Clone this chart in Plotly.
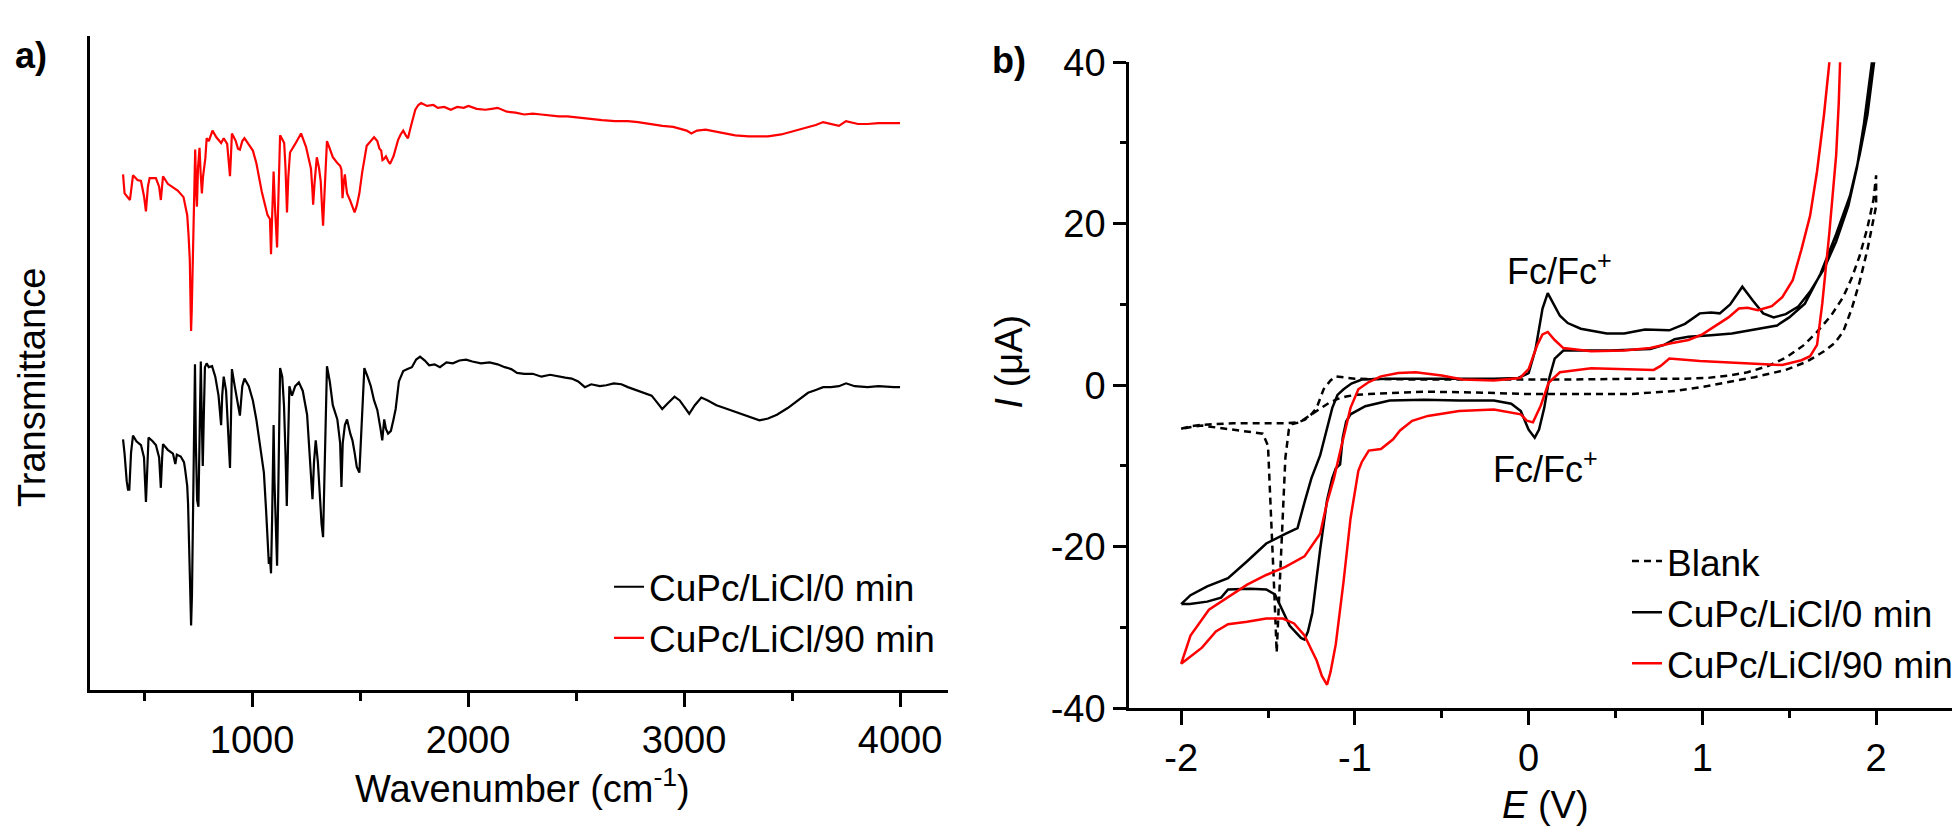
import plotly.graph_objects as go

W, H = 1960, 839

# ---- panel a) IR spectra, (wavenumber cm-1, transmittance a.u.) ----
IR_0MIN = [
    (403, 2.64), (410, 2.49), (420, 2.2), (426, 2.11), (432, 2.11), (440, 2.5), (449, 2.68),
    (465, 2.62), (486, 2.58), (500, 2.45), (509, 1.98), (515, 2.4), (521, 2.66), (540, 2.62),
    (555, 2.58), (570, 2.45), (578, 2.13), (584, 2.45), (588, 2.59), (610, 2.53), (634, 2.49),
    (645, 2.38), (652, 2.48), (670, 2.46), (685, 2.40), (690, 2.33), (700, 2.15), (704, 1.96),
    (710, 1.5), (714, 1.0), (718, 0.68), (722, 1.0), (726, 1.6), (729, 1.96), (733, 3.0),
    (736, 3.43), (740, 2.6), (746, 2.0), (752, 1.93), (757, 2.6), (763, 3.46), (768, 2.8),
    (772, 2.36), (777, 2.9), (782, 3.40), (790, 3.44), (800, 3.40), (815, 3.41), (830, 3.30),
    (845, 3.1), (857, 2.79), (862, 3.1), (869, 3.30), (880, 3.15), (890, 2.7), (898, 2.34),
    (903, 2.9), (907, 3.38), (920, 3.20), (935, 3.0), (944, 2.89), (955, 3.20), (965, 3.28),
    (985, 3.20), (1004, 3.05), (1020, 2.85), (1040, 2.55), (1055, 2.29), (1065, 1.9),
    (1072, 1.55), (1078, 1.33), (1083, 1.40), (1088, 1.23), (1093, 1.8), (1097, 2.4),
    (1100, 2.79), (1104, 2.2), (1110, 1.6), (1116, 1.31), (1121, 2.0), (1126, 2.7),
    (1130, 3.39), (1140, 3.30), (1148, 3.0), (1155, 2.5), (1161, 1.94), (1167, 2.6),
    (1173, 3.2), (1185, 3.10), (1200, 3.20), (1217, 3.24), (1235, 3.15), (1255, 2.9),
    (1270, 2.4), (1280, 2.01), (1287, 2.4), (1295, 2.63), (1305, 2.4), (1315, 2.0),
    (1322, 1.75), (1329, 1.61), (1335, 2.2), (1341, 3.0), (1347, 3.41), (1360, 3.25),
    (1374, 3.0), (1395, 2.85), (1408, 2.6), (1414, 2.14), (1420, 2.6), (1430, 2.79),
    (1440, 2.85), (1455, 2.70), (1465, 2.63), (1475, 2.5), (1485, 2.35), (1497, 2.29),
    (1505, 2.7), (1512, 3.1), (1520, 3.39), (1535, 3.30), (1550, 3.20), (1565, 3.05),
    (1580, 2.95), (1595, 2.75), (1603, 2.63), (1612, 2.85), (1620, 2.75), (1630, 2.70),
    (1643, 2.73), (1655, 2.85), (1665, 2.96), (1680, 3.25), (1700, 3.36), (1720, 3.38),
    (1740, 3.40), (1760, 3.48), (1778, 3.51), (1800, 3.47), (1820, 3.42), (1845, 3.43),
    (1870, 3.40), (1900, 3.45), (1930, 3.44), (1960, 3.47), (1991, 3.48), (2020, 3.46),
    (2060, 3.44), (2100, 3.45), (2137, 3.43), (2170, 3.40), (2200, 3.38), (2227, 3.34),
    (2260, 3.33), (2300, 3.33), (2340, 3.30), (2380, 3.32), (2420, 3.30), (2450, 3.29),
    (2480, 3.28), (2510, 3.25), (2541, 3.19), (2570, 3.22), (2610, 3.20), (2640, 3.21),
    (2675, 3.23), (2710, 3.22), (2740, 3.19), (2780, 3.16), (2810, 3.13), (2850, 3.10),
    (2875, 3.03), (2899, 2.96), (2925, 3.02), (2956, 3.09), (2980, 3.05), (3000, 2.98),
    (3024, 2.91), (3050, 3.0), (3080, 3.08), (3110, 3.05), (3150, 3.0), (3200, 2.96),
    (3237, 2.93), (3280, 2.90), (3320, 2.86), (3349, 2.84), (3389, 2.86), (3430, 2.90),
    (3480, 2.97), (3530, 3.05), (3574, 3.13), (3610, 3.16), (3644, 3.19), (3680, 3.19),
    (3717, 3.20), (3750, 3.23), (3790, 3.20), (3850, 3.19), (3900, 3.20), (3972, 3.19),
    (4000, 3.19),
]

IR_90MIN = [
    (403, 5.43), (410, 5.23), (435, 5.16), (449, 5.42), (470, 5.37), (486, 5.36), (500, 5.20),
    (509, 5.04), (518, 5.30), (526, 5.39), (555, 5.39), (570, 5.30), (578, 5.16), (588, 5.41),
    (610, 5.33), (634, 5.29), (656, 5.26), (683, 5.19), (700, 5.00), (706, 4.80), (712, 4.53),
    (716, 4.0), (718, 3.78), (721, 4.0), (727, 4.56), (732, 5.2), (737, 5.69), (741, 5.3),
    (745, 5.09), (750, 5.5), (757, 5.71), (762, 5.45), (768, 5.23), (773, 5.40), (778, 5.49),
    (784, 5.60), (790, 5.81), (800, 5.78), (817, 5.89), (835, 5.82), (857, 5.76), (869, 5.81),
    (885, 5.75), (893, 5.55), (898, 5.41), (902, 5.60), (907, 5.86), (925, 5.78), (935, 5.70),
    (944, 5.69), (955, 5.78), (965, 5.81), (985, 5.75), (1004, 5.68), (1020, 5.55),
    (1032, 5.39), (1045, 5.25), (1060, 5.11), (1072, 5.0), (1083, 4.96), (1086, 4.80),
    (1088, 4.59), (1092, 4.9), (1097, 5.25), (1100, 5.46), (1106, 5.1), (1111, 4.8),
    (1116, 4.66), (1120, 5.0), (1125, 5.5), (1130, 5.84), (1140, 5.80), (1149, 5.76),
    (1155, 5.5), (1160, 5.1), (1162, 5.03), (1168, 5.4), (1176, 5.66), (1200, 5.75),
    (1227, 5.86), (1250, 5.72), (1265, 5.58), (1273, 5.49), (1280, 5.25), (1283, 5.11),
    (1290, 5.35), (1300, 5.61), (1310, 5.50), (1318, 5.36), (1325, 5.05), (1329, 4.89),
    (1335, 5.2), (1342, 5.6), (1347, 5.78), (1360, 5.70), (1374, 5.61), (1395, 5.55),
    (1408, 5.52), (1414, 5.48), (1419, 5.18), (1425, 5.35), (1430, 5.43), (1436, 5.30),
    (1440, 5.23), (1455, 5.15), (1468, 5.08), (1475, 5.03), (1485, 5.10), (1497, 5.23),
    (1510, 5.45), (1531, 5.73), (1550, 5.78), (1565, 5.82), (1580, 5.78), (1590, 5.70),
    (1598, 5.68), (1604, 5.58), (1610, 5.59), (1620, 5.62), (1630, 5.57), (1639, 5.54),
    (1655, 5.62), (1676, 5.79), (1688, 5.85), (1700, 5.89), (1712, 5.84), (1722, 5.81),
    (1735, 5.93), (1756, 6.11), (1770, 6.16), (1783, 6.18), (1810, 6.15), (1840, 6.16),
    (1860, 6.13), (1890, 6.14), (1920, 6.11), (1950, 6.14), (1980, 6.13), (2002, 6.15),
    (2040, 6.12), (2080, 6.11), (2110, 6.12), (2137, 6.13), (2180, 6.09), (2220, 6.08),
    (2260, 6.06), (2300, 6.07), (2339, 6.06), (2380, 6.05), (2420, 6.04), (2460, 6.04),
    (2500, 6.03), (2563, 6.01), (2620, 6.00), (2680, 5.99), (2740, 5.99), (2787, 5.98),
    (2840, 5.96), (2900, 5.94), (2950, 5.93), (2985, 5.91), (3012, 5.89), (3034, 5.86),
    (3060, 5.89), (3100, 5.90), (3150, 5.88), (3237, 5.84), (3300, 5.83), (3389, 5.83),
    (3450, 5.85), (3500, 5.88), (3574, 5.93), (3610, 5.95), (3644, 5.98), (3680, 5.96),
    (3717, 5.94), (3750, 5.99), (3780, 5.97), (3805, 5.96), (3850, 5.96), (3900, 5.97),
    (3972, 5.97), (4000, 5.97),
]

# ---- panel b) cyclic voltammograms, (E in V, I in uA) ----
CV_BLANK = [
    (-2.0, -5.4), (-1.95, -5.1), (-1.88, -4.9), (-1.7, -4.7), (-1.5, -4.7), (-1.4, -4.7),
    (-1.33, -4.6), (-1.29, -4.3), (-1.25, -3.6), (-1.22, -2.8), (-1.18, -0.5), (-1.14, 0.6),
    (-1.11, 1.1), (-1.0, 0.8), (-0.6, 0.7), (-0.2, 0.7), (0.2, 0.7), (0.6, 0.8), (0.9, 0.8),
    (1.03, 0.9), (1.15, 1.2), (1.26, 1.6), (1.38, 2.4), (1.48, 3.4), (1.58, 4.9), (1.66, 6.6),
    (1.74, 8.6), (1.81, 10.9), (1.86, 13.3), (1.905, 16.0), (1.95, 19.5), (1.985, 23.0),
    (2.0, 26.0),
    (2.0, 22.2), (1.95, 16.8), (1.905, 12.8), (1.86, 9.5), (1.81, 6.6), (1.76, 5.2),
    (1.70, 4.2), (1.60, 2.9), (1.48, 1.9), (1.3, 1.0), (1.15, 0.4), (1.03, -0.1), (0.85, -0.7),
    (0.58, -1.1), (0.3, -1.1), (0.0, -1.1), (-0.3, -0.9), (-0.6, -0.8), (-0.92, -1.1),
    (-1.0, -1.2), (-1.05, -1.4), (-1.1, -1.7), (-1.15, -2.2), (-1.2, -2.9), (-1.26, -3.8),
    (-1.32, -4.6), (-1.36, -4.8), (-1.38, -5.5), (-1.40, -9.0), (-1.42, -18.0), (-1.44, -28.0),
    (-1.45, -33.1), (-1.465, -25.0), (-1.485, -15.0), (-1.50, -7.5), (-1.53, -6.0),
    (-1.6, -5.8), (-1.73, -5.5), (-1.88, -5.0), (-1.95, -5.2), (-2.0, -5.4),
]

CV_0MIN = [
    (-2.0, -27.1), (-1.946, -26.0), (-1.85, -24.9), (-1.73, -23.9), (-1.62, -21.8),
    (-1.51, -19.6), (-1.40, -18.4), (-1.33, -17.7), (-1.29, -14.5), (-1.25, -11.5),
    (-1.2, -8.7), (-1.16, -5.5), (-1.13, -2.8), (-1.10, -1.2), (-1.065, -0.5), (-1.02, 0.2),
    (-0.96, 0.7), (-0.8, 0.8), (-0.6, 0.8), (-0.4, 0.8), (-0.2, 0.8), (-0.06, 0.9),
    (0.0, 1.5), (0.04, 4.5), (0.08, 9.5), (0.11, 11.4), (0.14, 10.2), (0.18, 8.6),
    (0.225, 7.7), (0.30, 7.0), (0.45, 6.4), (0.55, 6.4), (0.67, 6.9), (0.81, 6.8),
    (0.90, 7.6), (0.985, 8.9), (1.05, 9.0), (1.10, 8.9), (1.16, 10.0), (1.23, 12.2),
    (1.29, 10.5), (1.35, 8.9), (1.41, 8.4), (1.48, 8.8), (1.55, 9.7), (1.62, 11.6),
    (1.70, 14.4), (1.77, 17.8), (1.84, 22.2), (1.89, 27.0), (1.93, 32.4), (1.975, 39.8),
    (2.0, 44.0),
    (2.0, 42.0), (1.95, 33.5), (1.905, 28.5), (1.85, 23.5), (1.77, 18.7), (1.68, 13.8),
    (1.59, 10.1), (1.50, 8.4), (1.43, 7.4), (1.30, 6.9), (1.17, 6.4), (1.05, 6.2),
    (0.92, 6.0), (0.84, 5.7), (0.78, 5.0), (0.70, 4.5), (0.47, 4.3), (0.20, 4.3),
    (0.15, 3.3), (0.12, 1.0), (0.09, -2.8), (0.06, -5.5), (0.035, -6.5), (0.0, -5.5),
    (-0.045, -3.2), (-0.1, -2.3), (-0.2, -1.9), (-0.4, -1.9), (-0.6, -1.8), (-0.8, -1.9),
    (-0.94, -2.6), (-1.025, -3.6), (-1.05, -4.5), (-1.07, -6.5), (-1.085, -9.8),
    (-1.11, -10.3), (-1.13, -11.5), (-1.16, -14.2), (-1.2, -20.4), (-1.245, -28.2),
    (-1.27, -30.5), (-1.29, -31.5), (-1.31, -31.3), (-1.375, -29.8), (-1.46, -25.9),
    (-1.51, -25.3), (-1.6, -25.2), (-1.73, -25.3), (-1.77, -26.3), (-1.85, -26.8),
    (-1.95, -27.1), (-2.0, -27.1),
]

CV_90MIN = [
    (-2.0, -34.5), (-1.946, -31.0), (-1.84, -27.8), (-1.73, -26.2), (-1.62, -24.7),
    (-1.51, -23.5), (-1.40, -22.5), (-1.29, -21.2), (-1.20, -18.4), (-1.16, -14.5),
    (-1.12, -11.5), (-1.09, -8.7), (-1.05, -5.0), (-1.025, -2.8), (-0.98, -0.5),
    (-0.92, 0.4), (-0.85, 1.1), (-0.75, 1.5), (-0.65, 1.6), (-0.5, 1.2), (-0.38, 0.7),
    (-0.2, 0.6), (-0.05, 0.9), (0.0, 2.0), (0.05, 5.0), (0.08, 6.3), (0.11, 6.6),
    (0.15, 5.6), (0.20, 4.6), (0.36, 4.2), (0.55, 4.3), (0.70, 4.6), (0.82, 5.2),
    (0.92, 5.6), (1.0, 6.3), (1.08, 7.4), (1.15, 8.4), (1.21, 9.5), (1.26, 9.6),
    (1.32, 9.3), (1.40, 9.8), (1.46, 10.9), (1.52, 13.0), (1.57, 16.8), (1.62, 21.0),
    (1.66, 26.5), (1.70, 33.5), (1.73, 39.8), (1.75, 45.0),
    (1.80, 45.0), (1.785, 35.0), (1.77, 28.5), (1.73, 18.7), (1.69, 10.1), (1.66, 5.0),
    (1.62, 3.6), (1.57, 3.1), (1.46, 2.5), (1.26, 2.7), (0.985, 3.0), (0.81, 3.3),
    (0.76, 2.4), (0.72, 1.9), (0.55, 2.0), (0.36, 2.1), (0.18, 1.6), (0.115, 0.3),
    (0.07, -2.5), (0.025, -4.6), (-0.01, -4.4), (-0.045, -3.6), (-0.2, -3.0), (-0.4, -3.2),
    (-0.58, -3.8), (-0.67, -4.4), (-0.74, -5.6), (-0.78, -6.7), (-0.85, -7.9), (-0.92, -8.1),
    (-0.96, -9.5), (-0.98, -10.6), (-1.025, -16.5), (-1.065, -24.3), (-1.11, -32.1),
    (-1.14, -35.5), (-1.16, -37.1), (-1.19, -36.0), (-1.22, -34.1), (-1.29, -31.0),
    (-1.35, -29.5), (-1.415, -28.9), (-1.51, -28.9), (-1.62, -29.3), (-1.73, -29.6),
    (-1.80, -30.5), (-1.88, -32.5), (-1.95, -33.6), (-2.0, -34.5),
]

WN_TICKS = [1000, 2000, 3000, 4000]
WN_MINOR = [500, 1500, 2500, 3500]
E_TICKS = [-2, -1, 0, 1, 2]
E_MINOR = [-1.5, -0.5, 0.5, 1.5, 2.5]
I_TICKS = [-40, -20, 0, 20, 40]
I_MINOR = [-30, -10, 10, 30]


def px(x):
    return x / W


def py(y):
    return 1 - y / H


def split(pairs):
    return [p[0] for p in pairs], [p[1] for p in pairs]


FONT = "Liberation Sans, Arial, sans-serif"
BLACK, RED = "#000000", "#ff0000"

fig = go.Figure()

x, y = split(IR_0MIN)
fig.add_trace(go.Scatter(x=x, y=y, mode="lines", name="CuPc/LiCl/0 min",
                         line=dict(color=BLACK, width=2.2), xaxis="x", yaxis="y", legend="legend"))
x, y = split(IR_90MIN)
fig.add_trace(go.Scatter(x=x, y=y, mode="lines", name="CuPc/LiCl/90 min",
                         line=dict(color=RED, width=2.2), xaxis="x", yaxis="y", legend="legend"))

x, y = split(CV_BLANK)
fig.add_trace(go.Scatter(x=x, y=y, mode="lines", name="Blank",
                         line=dict(color=BLACK, width=2.5, dash="7px,5px"),
                         xaxis="x2", yaxis="y2", legend="legend2"))
x, y = split(CV_0MIN)
fig.add_trace(go.Scatter(x=x, y=y, mode="lines", name="CuPc/LiCl/0 min",
                         line=dict(color=BLACK, width=2.5), xaxis="x2", yaxis="y2", legend="legend2"))
x, y = split(CV_90MIN)
fig.add_trace(go.Scatter(x=x, y=y, mode="lines", name="CuPc/LiCl/90 min",
                         line=dict(color=RED, width=2.5), xaxis="x2", yaxis="y2", legend="legend2"))

axis_common = dict(showline=True, linecolor=BLACK, linewidth=2.5, showgrid=False, zeroline=False,
                   tickcolor=BLACK, tickwidth=2.5, tickfont=dict(family=FONT, size=38, color=BLACK))

fig.update_layout(
    width=W, height=H, autosize=False,
    margin=dict(l=0, r=0, t=0, b=0),
    paper_bgcolor="white", plot_bgcolor="white",
    font=dict(family=FONT, size=38, color=BLACK),
    xaxis=dict(domain=[px(82), px(940)], range=[250, 4222], anchor="y",
               tickmode="array", tickvals=WN_TICKS, ticks="outside", ticklen=14,
               minor=dict(tickvals=WN_MINOR, ticks="outside", ticklen=8, tickwidth=2.5,
                          tickcolor=BLACK, showgrid=False),
               **axis_common),
    yaxis=dict(domain=[py(696), py(7)], range=[0, 6.89], anchor="x",
               showticklabels=False, ticks="", **axis_common),
    xaxis2=dict(domain=[px(1121), px(1955)], range=[-2.3, 2.5], anchor="y2",
                tickmode="array", tickvals=E_TICKS, ticktext=[str(v) for v in E_TICKS],
                ticks="outside", ticklen=14,
                minor=dict(tickvals=E_MINOR, ticks="outside", ticklen=7, tickwidth=2.5,
                           tickcolor=BLACK, showgrid=False),
                **axis_common),
    yaxis2=dict(domain=[py(715), py(35)], range=[-40, 40], anchor="x2",
                tickmode="array", tickvals=I_TICKS, ticktext=[str(v) for v in I_TICKS],
                ticks="outside", ticklen=13,
                minor=dict(tickvals=I_MINOR, ticks="outside", ticklen=6, tickwidth=2.5,
                           tickcolor=BLACK, showgrid=False),
                **axis_common),
    legend=dict(x=px(932), y=py(555), xanchor="right", yanchor="top",
                bgcolor="rgba(0,0,0,0)", font=dict(family=FONT, size=37, color=BLACK),
                tracegroupgap=0),
    legend2=dict(x=px(1950), y=py(528), xanchor="right", yanchor="top",
                 bgcolor="rgba(0,0,0,0)", font=dict(family=FONT, size=37, color=BLACK),
                 tracegroupgap=0),
)

notes = [
    dict(text="<b>a)</b>", x=px(23), y=py(28), size=36, angle=0),
    dict(text="<b>b)</b>", x=px(1001), y=py(33), size=36, angle=0),
    dict(text="Wavenumber (cm<sup>-1</sup>)", x=px(514), y=py(797), size=38, angle=0),
    dict(text="Transmittance", x=px(24), y=py(378), size=38, angle=-90),
    dict(text="<i>I</i> (μA)", x=px(1001), y=py(350), size=38, angle=-90),
    dict(text="<i>E</i> (V)", x=px(1537), y=py(817), size=38, angle=0),
    dict(text="Fc/Fc<sup>+</sup>", x=px(1551), y=py(253), size=36, angle=0),
    dict(text="Fc/Fc<sup>+</sup>", x=px(1537), y=py(461), size=36, angle=0),
]
for n in notes:
    fig.add_annotation(text=n["text"], x=n["x"], y=n["y"], xref="paper", yref="paper",
                       xanchor="center", yanchor="middle", showarrow=False, textangle=n["angle"],
                       font=dict(family=FONT, size=n["size"], color=BLACK))

fig.write_html("out.html")
